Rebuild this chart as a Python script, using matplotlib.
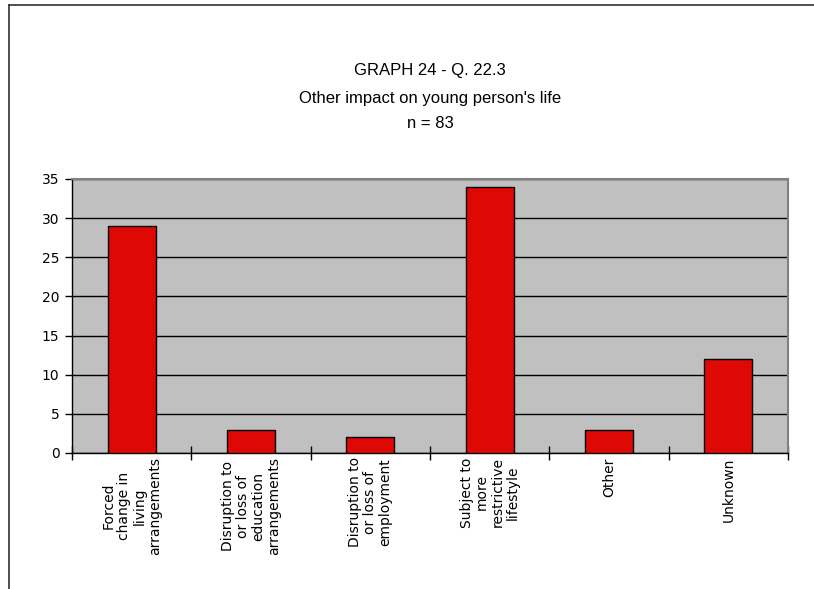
import matplotlib
matplotlib.use("Agg")
import matplotlib.pyplot as plt
from matplotlib.lines import Line2D
import numpy as np

plt.rcParams["font.family"] = ["DejaVu Sans"]

categories = [
    "Forced\nchange in\nliving\narrangements",
    "Disruption to\nor loss of\neducation\narrangements",
    "Disruption to\nor loss of\nemployment",
    "Subject to\nmore\nrestrictive\nlifestyle",
    "Other",
    "Unknown",
]
values = [29, 3, 2, 34, 3, 12]
y_ticks = [0, 5, 10, 15, 20, 25, 30, 35]

fig = plt.figure(figsize=(8.14, 5.89), dpi=100)
ax = fig.add_axes([72 / 814, 1 - 453 / 589, 716 / 814, 274 / 589])

x = np.arange(len(values))
ax.set_facecolor("#c0c0c0")
ax.bar(x, values, width=0.4, color="#de0905", edgecolor="black", linewidth=1, zorder=3)

ax.set_xlim(-0.5, len(values) - 0.5)
ax.set_ylim(0, 35)
ax.set_yticks(y_ticks)
ax.yaxis.grid(True, color="black", linewidth=1, zorder=1)
ax.set_axisbelow(True)

# boundaries as major ticks, labels on minor ticks at bar centres
ax.set_xticks(np.arange(-0.5, len(values)), labels=[])
ax.set_xticks(x, labels=categories, minor=True)
ax.tick_params(axis="x", which="major", direction="inout", length=10, width=1, color="black")
ax.tick_params(axis="x", which="minor", length=0, pad=3)
ax.tick_params(axis="y", direction="out", length=5, width=1, labelsize=10, pad=4)
for lab in ax.get_xticklabels(minor=True):
    lab.set_rotation(90)
    lab.set_fontsize(10)
    lab.set_multialignment("center")
    lab.set_ha("center")
    lab.set_va("top")
    lab.set_linespacing(1.12)

for side in ["top", "right"]:
    ax.spines[side].set_color("#808080")
    ax.spines[side].set_linewidth(1.5)
for side in ["left", "bottom"]:
    ax.spines[side].set_color("black")
    ax.spines[side].set_linewidth(1)

title_font = ["Liberation Sans Narrow", "Liberation Sans", "DejaVu Sans"]
cx = 430 / 814
fig.text(cx, 1 - 70 / 589, "GRAPH 24 - Q. 22.3", ha="center", va="center", fontsize=12, family=title_font)
fig.text(cx, 1 - 98 / 589, "Other impact on young person's life", ha="center", va="center", fontsize=12, family=title_font)
fig.text(cx, 1 - 124 / 589, "n = 83", ha="center", va="center", fontsize=12, family=title_font)

# outer frame (top and left edges visible)
fig.add_artist(Line2D([8.5 / 814, 1], [1 - 4.5 / 589, 1 - 4.5 / 589], color="#303030", linewidth=1.2))
fig.add_artist(Line2D([8.5 / 814, 8.5 / 814], [0, 1 - 4.5 / 589], color="#303030", linewidth=1.2))

fig.savefig("out.png", dpi=100, facecolor="white")
